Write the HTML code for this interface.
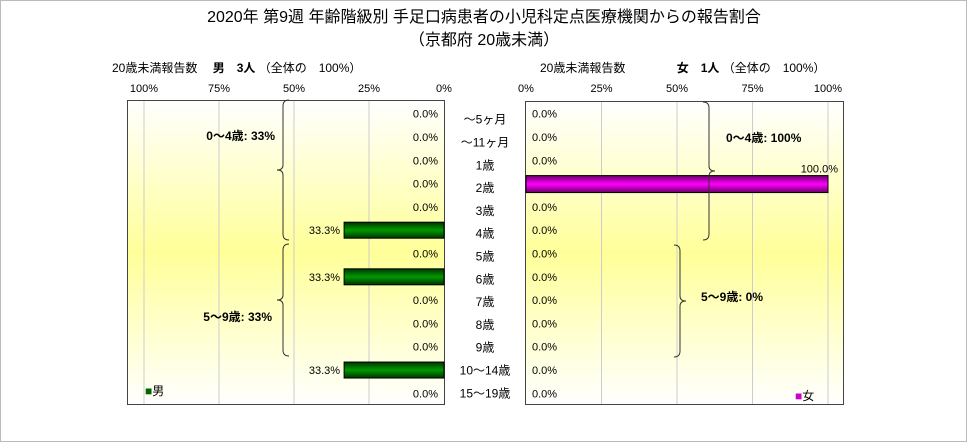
<!DOCTYPE html>
<html><head><meta charset="utf-8"><style>
body{margin:0;background:#fff;}
svg text{font-family:"Liberation Sans","Noto Sans CJK JP",sans-serif;}
</style></head><body>
<svg width="968" height="443" xmlns="http://www.w3.org/2000/svg">
<defs>
<linearGradient id="bg" x1="0" y1="0" x2="0" y2="1">
<stop offset="0" stop-color="#ffffff"/><stop offset="0.5" stop-color="#ffff99"/><stop offset="1" stop-color="#ffffff"/>
</linearGradient>
<linearGradient id="gm" x1="0" y1="0" x2="0" y2="1">
<stop offset="0" stop-color="#003300"/><stop offset="0.5" stop-color="#009900"/><stop offset="1" stop-color="#003300"/>
</linearGradient>
<linearGradient id="gf" x1="0" y1="0" x2="0" y2="1">
<stop offset="0" stop-color="#660066"/><stop offset="0.5" stop-color="#ff00ff"/><stop offset="1" stop-color="#660066"/>
</linearGradient>
</defs>
<rect x="0.5" y="0.5" width="966" height="441" fill="#fff" stroke="#bbb"/>
<text x="484" y="22" font-size="16" text-anchor="middle">2020年 第9週 年齢階級別 手足口病患者の小児科定点医療機関からの報告割合</text>
<text x="484" y="45" font-size="16" text-anchor="middle">（京都府 20歳未満）</text>
<text x="112" y="72" font-size="12">20歳未満報告数　 <tspan font-weight="bold">男　3人</tspan> （全体の　100%）</text>
<text x="540" y="72" font-size="12">20歳未満報告数　　　　 <tspan font-weight="bold">女　1人</tspan> （全体の　100%）</text>
<rect x="127.5" y="100.5" width="317" height="304" fill="url(#bg)" stroke="#444"/>
<rect x="525.5" y="101.5" width="318" height="303" fill="url(#bg)" stroke="#444"/>
<g id="g"></g>
<text x="145" y="395" font-size="12"><tspan fill="#006600">■</tspan>男</text>
<text x="795" y="400" font-size="12"><tspan fill="#cc00cc">■</tspan>女</text>
</svg>
<script>
const categories=["～5ヶ月","～11ヶ月","1歳","2歳","3歳","4歳","5歳","6歳","7歳","8歳","9歳","10～14歳","15～19歳"];
const maleValues=[0,0,0,0,0,33.3,0,33.3,0,0,0,33.3,0];
const femaleValues=[0,0,0,100,0,0,0,0,0,0,0,0,0];
const ticks=[0,25,50,75,100];
const ns="http://www.w3.org/2000/svg";
const g=document.getElementById('g');
const top0=102,rowH=303/13;
const xm=v=>444-v*3.0;
const xf=v=>526+v*3.02;
const yc=i=>top0+(i+0.5)*rowH;
function mk(t,a,txt){const e=document.createElementNS(ns,t);for(const k in a)e.setAttribute(k,a[k]);if(txt!==undefined)e.textContent=txt;g.appendChild(e);return e;}
ticks.forEach(t=>{
 if(t>0){let l=mk('line',{x1:xm(t),x2:xm(t),y1:101,y2:404,stroke:'#ccc'});
 
 let l2=mk('line',{x1:xf(t),x2:xf(t),y1:102,y2:404,stroke:'#ccc'});
 }
 let a=mk('text',{x:xm(t),y:92,'font-size':11,'text-anchor':'middle'},t+'%');
 
 let b=mk('text',{x:xf(t),y:92,'font-size':11,'text-anchor':'middle'},t+'%');
 
});
categories.forEach((c,i)=>{
 let y=yc(i);
 let t=mk('text',{x:485,y:y+4+(12-i)*0.0+(i<12?(12-i)*0.5:0),'font-size':12,'text-anchor':'middle'},c);
 
 let m=maleValues[i];
 if(m>0){let r=mk('rect',{x:xm(m),y:y-8,width:444-xm(m),height:16,fill:'url(#gm)',stroke:'#000'});
  }
 let mt=mk('text',{x:m>0?xm(m)-4:438,y:y+4,'font-size':11,'text-anchor':'end'},m.toFixed(1)+'%');
 
 let f=femaleValues[i];
 if(f>0){let r=mk('rect',{x:526,y:y-8,width:xf(f)-526,height:17,fill:'url(#gf)',stroke:'#000'});
  
  let ft=mk('text',{x:xf(f)+10,y:y-11,'font-size':11,'text-anchor':'end'},f.toFixed(1)+'%');
  }
 else{let ft=mk('text',{x:532,y:y+4,'font-size':11},f.toFixed(1)+'%');
  }
});
function brace(x,y1,y2,dir,col){const m=(y1+y2)/2,d=dir*6;
 return `M${x+d},${y1} Q${x},${y1} ${x},${y1+6} L${x},${m-5} Q${x},${m} ${x-d},${m} Q${x},${m} ${x},${m+5} L${x},${y2-6} Q${x},${y2} ${x+d},${y2}`;}
[[283,100,240,1,'male-brace-0-4'],[283,244,356,1,'male-brace-5-9'],[709,102,240,-1,'female-brace-0-4'],[680,245,357,-1,'female-brace-5-9']].forEach(b=>{
 let p=mk('path',{d:brace(b[0],b[1],b[2],b[3]),fill:'none',stroke:'#333','stroke-width':1});
 
});
[[275,140,'end','0～4歳: 33%','male-group-0-4'],[272,321,'end','5～9歳: 33%','male-group-5-9'],[726,142,'start','0～4歳: 100%','female-group-0-4'],[701,301,'start','5～9歳: 0%','female-group-5-9']].forEach(a=>{
 let t=mk('text',{x:a[0],y:a[1],'font-size':12,'font-weight':'bold','text-anchor':a[2]},a[3]);
 
});
</script>
</body></html>
